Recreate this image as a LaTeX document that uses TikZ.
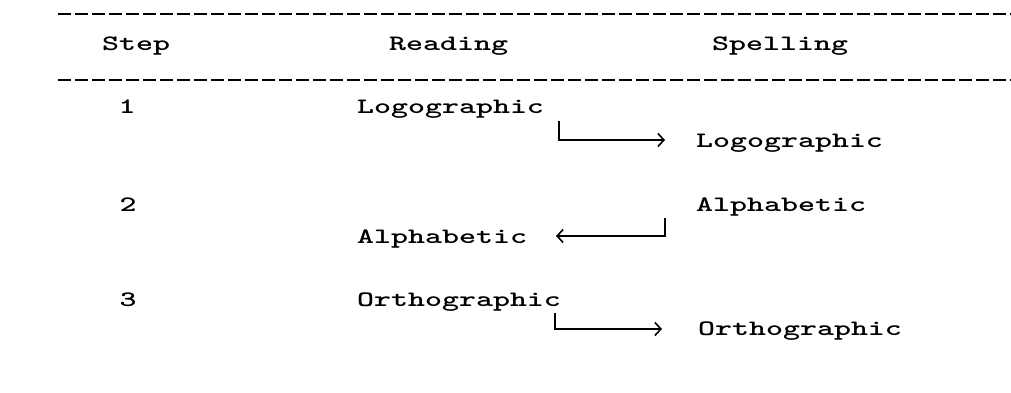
\documentclass[tikz,border=0pt]{standalone}
\usepackage{graphicx}
\usetikzlibrary{arrows.meta}
% wide typewriter lettering
\newcommand\tw[1]{\scalebox{1.47}[1]{#1}}
\begin{document}
\begin{tikzpicture}[x=1pt,y=-1pt,
  lbl/.style={inner sep=0pt, anchor=base west, font=\fontsize{22}{26}\selectfont\ttfamily\bfseries},
  num/.style={inner sep=0pt, anchor=base, font=\fontsize{22}{26}\selectfont\ttfamily\bfseries},
  rule/.style={line width=1.6pt, dash pattern=on 13pt off 4pt},
  link/.style={line width=1.6pt, -{Straight Barb[length=6pt,width=13pt,line width=1.6pt]}}]
\useasboundingbox (0,0) rectangle (1011,392);
\fill[white] (0,0) rectangle (1011,392);

% table rules
\coordinate (topL) at (58,14);  \coordinate (topR) at (1011,14);
\coordinate (midL) at (58,80);  \coordinate (midR) at (1011,80);
\draw[rule] (topL) -- (topR);
\draw[rule] (midL) -- (midR);

% header
\node[lbl] (hstep) at (102,50) {\tw{Step}};
\node[lbl] (hread) at (389,50) {\tw{Reading}};
\node[lbl] (hspell) at (712,50) {\tw{Spelling}};

% step numbers
\node[num] (n1) at (127,113) {\tw{1}};
\node[num] (n2) at (128,211) {\tw{2}};
\node[num] (n3) at (128,306) {\tw{3}};

% reading column
\node[lbl] (rlog) at (357,113) {\tw{Logographic}};
\node[lbl] (ralp) at (357,243) {\tw{Alphabetic}};
\node[lbl] (rort) at (357,306) {\tw{Orthographic}};

% spelling column
\node[lbl] (slog) at (696,147) {\tw{Logographic}};
\node[lbl] (salp) at (696,211) {\tw{Alphabetic}};
\node[lbl] (sort) at (698,335) {\tw{Orthographic}};

% transfer arrows
\coordinate (a1s) at (559,121); \coordinate (a1e) at (665,140);
\coordinate (a2s) at (665,218); \coordinate (a2e) at (556,236);
\coordinate (a3s) at (555,313); \coordinate (a3e) at (662,329);
\draw[link] (a1s) |- (a1e);
\draw[link] (a2s) |- (a2e);
\draw[link] (a3s) |- (a3e);
\end{tikzpicture}
\end{document}
